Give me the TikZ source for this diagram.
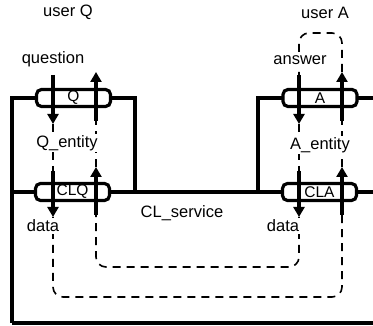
\documentclass[tikz,border=0pt]{standalone}
\usepackage{fontspec}
\setmainfont{Liberation Sans}
\usetikzlibrary{arrows.meta}
\begin{document}
\begin{tikzpicture}[x=1pt,y=-1pt,
  wall/.style={line width=3.2pt},
  port/.style={draw, line width=3.2pt, rounded corners=5pt, fill=white,
    minimum width=74pt, minimum height=17pt, inner sep=0pt,
    font=\fontsize{15.5}{16}\selectfont},
  flow/.style={line width=3.4pt, -{Triangle[width=11pt,length=10pt]}},
  trace/.style={line width=1.6pt, dash pattern=on 8pt off 6pt, rounded corners=10pt},
  lbl/.style={fill=white, inner sep=1.5pt, font=\fontsize{16.5}{18}\selectfont},
  txt/.style={inner sep=1pt, font=\fontsize{16.5}{18}\selectfont}]
\useasboundingbox (0,0) rectangle (373,326);
% walls of the blocks
\draw[wall] (12,323) -- (12,98) -- (135,98) -- (135,192);
\draw[wall] (12,192) -- (385,192);
\draw[wall] (12,323) -- (385,323);
\draw[wall] (258,192) -- (258,98) -- (385,98);
% named points of the flows
\coordinate (qd1) at (53,75);   \coordinate (qd2) at (53,124);
\coordinate (qu1) at (96,121);  \coordinate (qu2) at (96,72);
\coordinate (cqd1) at (53,171); \coordinate (cqd2) at (53,217);
\coordinate (cqu1) at (96,215); \coordinate (cqu2) at (96,167);
\coordinate (ad1) at (299,75);  \coordinate (ad2) at (299,124);
\coordinate (au1) at (342,121); \coordinate (au2) at (342,72);
\coordinate (cad1) at (299,171); \coordinate (cad2) at (299,217);
\coordinate (cau1) at (342,215); \coordinate (cau2) at (342,167);
% dashed traces
\draw[trace] (qd2) -- (cqd1);
\draw[trace] (cqu2) -- (qu1);
\draw[trace] (ad2) -- (cad1);
\draw[trace] (cau2) -- (au1);
\draw[trace] (cqd2) -- (53,297) -- (342,297) -- (cau1);
\draw[trace] (cad2) -- (299,267) -- (96,267) -- (cqu1);
\draw[trace] (au2) -- (342,33) -- (299,33) -- (ad1);
% ports
\node[port] (Q) at (73.5,98) {Q};
\node[port] (CLQ) at (72.5,192) {CLQ};
\node[port] (A) at (320,98) {A};
\node[port] (CLA) at (319.5,192) {CLA};
% solid flows
\draw[flow] (qd1) -- (qd2);
\draw[flow] (qu1) -- (qu2);
\draw[flow] (cqd1) -- (cqd2);
\draw[flow] (cqu1) -- (cqu2);
\draw[flow] (ad1) -- (ad2);
\draw[flow] (au1) -- (au2);
\draw[flow] (cad1) -- (cad2);
\draw[flow] (cau1) -- (cau2);
% labels
\node[txt] (userQ) at (68,12) {user Q};
\node[txt] (userA) at (325,13) {user A};
\node[txt] (question) at (53,59) {question};
\node[lbl] (answer) at (300,60) {answer};
\node[lbl] (Qent) at (67,143) {Q\_entity};
\node[lbl] (Aent) at (320,145) {A\_entity};
\node[txt] (CLs) at (182,213) {CL\_service};
\node[lbl] (dataQ) at (43,226) {data};
\node[lbl] (dataA) at (283,226) {data};
\end{tikzpicture}
\end{document}
